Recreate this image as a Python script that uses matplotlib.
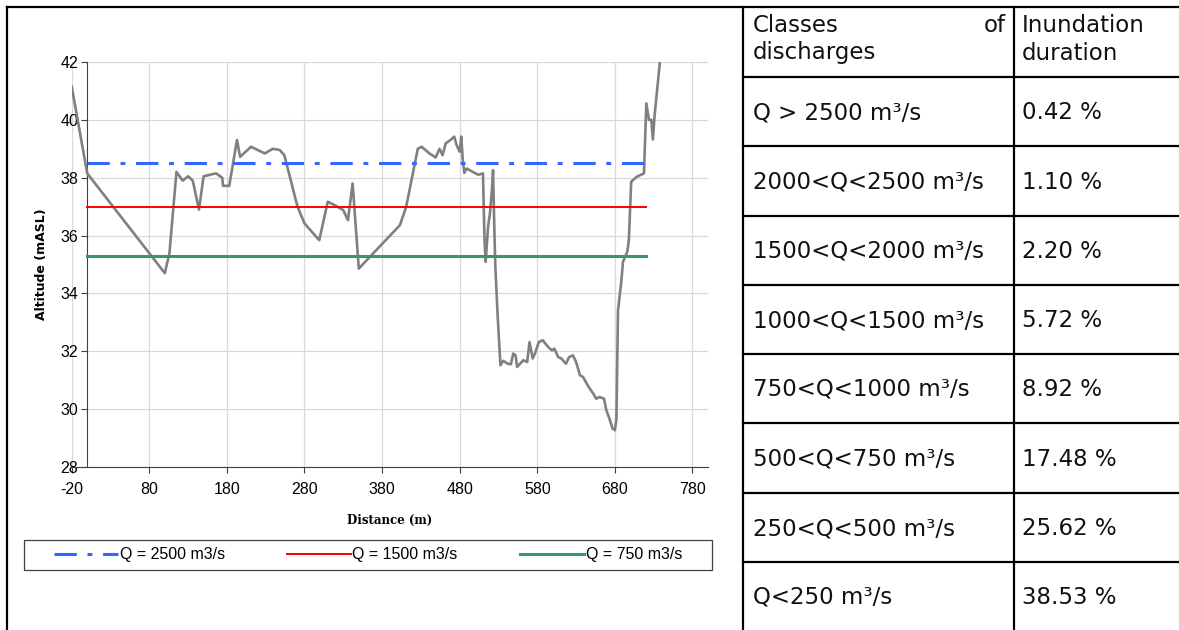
import matplotlib
matplotlib.use("Agg")
import matplotlib.pyplot as plt
from matplotlib.lines import Line2D
from matplotlib.patches import Rectangle

plt.rcParams['axes.unicode_minus'] = False

# Cross-section profile (distance in m, altitude in m ASL)
dist = [-20, 0, 100, 106, 115, 123, 130, 136, 144, 150,
        166, 174, 175, 183, 193, 197, 211, 229, 239, 248,
        254, 271, 280, 299, 310, 319, 330, 336, 342, 350,
        403, 411, 426, 431, 441, 449, 454, 458, 462, 468,
        473, 476, 480, 482, 484, 486, 489, 497, 504, 510,
        512, 513.5, 516.5, 519, 521.5, 523, 525, 526, 529, 532.5,
        536, 542, 546, 549, 552, 554, 562, 567, 570, 574,
        577, 582, 587, 594, 599, 602, 607, 611, 617, 621,
        626, 630, 635, 639, 645, 652, 656, 660, 666, 669,
        673, 677, 680, 682, 684, 688, 690.5, 696, 698, 701,
        708, 717.5, 720.5, 724, 727, 729, 731, 738]
alt = [41.15, 38.15, 34.7, 35.4, 38.2, 37.9, 38.05, 37.9, 36.9, 38.05,
       38.15, 38.0, 37.72, 37.72, 39.3, 38.72, 39.07, 38.84, 39.0, 38.96,
       38.78, 37.0, 36.42, 35.84, 37.17, 37.05, 36.88, 36.53, 37.8, 34.86,
       36.36, 36.99, 39.0, 39.07, 38.84, 38.7, 39.0, 38.78, 39.19, 39.3,
       39.42, 39.13, 38.9, 39.42, 38.6, 38.17, 38.32, 38.2, 38.1, 38.15,
       35.84, 35.09, 36.3, 36.76, 37.57, 38.26, 35.84, 34.9, 33.19, 31.52,
       31.67, 31.57, 31.55, 31.92, 31.86, 31.46, 31.69, 31.63, 32.32, 31.75,
       31.92, 32.32, 32.38, 32.15, 32.03, 32.09, 31.8, 31.75, 31.57, 31.8,
       31.86, 31.63, 31.17, 31.11, 30.82, 30.54, 30.36, 30.42, 30.36, 29.96,
       29.67, 29.33, 29.27, 29.67, 33.42, 34.34, 35.1, 35.44, 35.84, 37.86,
       38.03, 38.15, 40.57, 40.0, 40.0, 39.32, 40.1, 42.0]

# water levels for the three discharges
level_names = ['Q = 2500 m3/s', 'Q = 1500 m3/s', 'Q = 750 m3/s']
level_alt = [38.5, 37.0, 35.3]
level_extent = [0, 720]

x_ticks = [-20, 80, 180, 280, 380, 480, 580, 680, 780]
y_ticks = [28, 30, 32, 34, 36, 38, 40, 42]

# table on the right
table_classes = ['Q > 2500 m³/s', '2000<Q<2500 m³/s', '1500<Q<2000 m³/s',
                 '1000<Q<1500 m³/s', '750<Q<1000 m³/s', '500<Q<750 m³/s',
                 '250<Q<500 m³/s', 'Q<250 m³/s']
table_durations = ['0.42 %', '1.10 %', '2.20 %', '5.72 %', '8.92 %', '17.48 %',
                   '25.62 %', '38.53 %']

W, H = 1179, 630


def fx(px):
    return px / W


def fy(py):
    return 1 - py / H


fig = plt.figure(figsize=(W / 100, H / 100), dpi=100)
fig.patch.set_facecolor('white')

ax = fig.add_axes([fx(71.7), fy(467), (708 - 71.7) / W, (467 - 62) / H])
ax.set_xlim(-20, 800)
ax.set_ylim(28, 42)
ax.set_xticks(x_ticks)
ax.set_yticks(y_ticks)

# grid: verticals full height, horizontals start at the y axis (x=0)
ax.grid(axis='x', color='#d9d9d9', lw=0.9, zorder=0)
ax.hlines(y_ticks, 0, 800, color='#d9d9d9', lw=0.9, zorder=0)

for s in ['top', 'right']:
    ax.spines[s].set_visible(False)
ax.spines['left'].set_position(('data', 0))
ax.spines['left'].set_color('#404040')
ax.spines['bottom'].set_color('#404040')
ax.tick_params(axis='both', direction='out', length=4.5, color='#404040',
               labelsize=11.5)
ax.tick_params(axis='x', pad=6)
ax.tick_params(axis='y', pad=2)
for lab in ax.get_xticklabels() + ax.get_yticklabels():
    lab.set_family('Liberation Sans')

ax.plot(dist, alt, color='#808080', lw=1.9, zorder=3, clip_on=True)

h1, = ax.plot(level_extent, [level_alt[0]] * 2, color='#3366ff', lw=2.2,
              linestyle=(0, (7.3, 3.5, 1.6, 3.5)), zorder=4)
h2, = ax.plot(level_extent, [level_alt[1]] * 2, color='#ff0000', lw=1.4, zorder=4)
h3, = ax.plot(level_extent, [level_alt[2]] * 2, color='#339966', lw=2.2, zorder=4)

ax.set_ylabel('Altitude (mASL)', fontsize=9, fontweight='bold', family='DejaVu Sans')
ax.yaxis.set_label_coords((42 - 71.7) / 636.3, 0.5)
ax.yaxis.label.set_va('center')
ax.set_xlabel('Distance (m)', fontsize=8.5, fontweight='bold', family='DejaVu Serif')
ax.xaxis.set_label_coords(0.5, -(520 - 467) / 405)
ax.xaxis.label.set_va('center')

# legend box drawn by hand, entries placed inside it
fig.add_artist(Rectangle((fx(24), fy(570)), (712 - 24) / W, 30 / H,
                         transform=fig.transFigure, fill=False,
                         edgecolor='#404040', lw=0.9))
fig.legend([h1, h2, h3], level_names, loc='center',
           bbox_to_anchor=(fx(24), fy(570), (712 - 24) / W, 30 / H),
           bbox_transform=fig.transFigure, ncol=3, frameon=False,
           handlelength=4.0, handletextpad=0.1, columnspacing=3.9,
           borderaxespad=0, borderpad=0.35,
           prop={'family': 'Liberation Sans', 'size': 11.5})


def seg(x0, y0, x1, y1, lw=1.6):
    fig.add_artist(Line2D([fx(x0), fx(x1)], [fy(y0), fy(y1)], color='black',
                          lw=lw, transform=fig.transFigure, solid_capstyle='projecting'))


# outer frame and table grid
seg(7, 7, W, 7)
seg(7, 7, 7, H)
seg(743, 7, 743, H)
seg(1014, 7, 1014, H)
row_lines = [77, 146, 216, 285, 354, 423, 493, 562]
for y in row_lines:
    seg(743, y, W, y)

tfont = dict(family='DejaVu Sans', fontsize=16.5, color='#111111')
fig.text(fx(753), fy(31.5), 'Classes', ha='left', va='baseline', **tfont)
fig.text(fx(1006), fy(31.5), 'of', ha='right', va='baseline', **tfont)
fig.text(fx(753), fy(59.5), 'discharges', ha='left', va='baseline', **tfont)
fig.text(fx(1022), fy(31.5), 'Inundation', ha='left', va='baseline', **tfont)
fig.text(fx(1022), fy(59.5), 'duration', ha='left', va='baseline', **tfont)

bounds = row_lines + [H]
for i, (c, d) in enumerate(zip(table_classes, table_durations)):
    yc = (bounds[i] + bounds[i + 1]) / 2 + 7.5
    fig.text(fx(753), fy(yc), c, ha='left', va='baseline', **tfont)
    fig.text(fx(1022), fy(yc), d, ha='left', va='baseline', **tfont)

fig.savefig('out.png', dpi=100)
